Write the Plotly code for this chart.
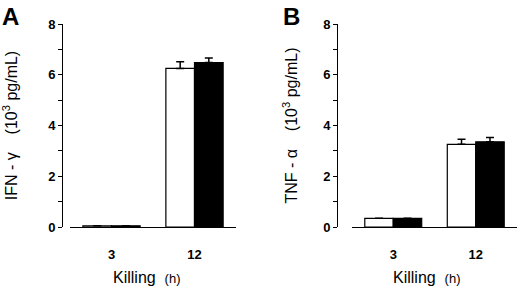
import plotly.graph_objects as go

categories = ["3", "12"]
ifn_white = [0.05, 6.25]
ifn_white_err = [0.0, 0.26]
ifn_black = [0.05, 6.48]
ifn_black_err = [0.0, 0.18]
tnf_white = [0.34, 3.26]
tnf_white_err = [0.0, 0.20]
tnf_black = [0.34, 3.36]
tnf_black_err = [0.0, 0.17]
y_ticks = [0, 2, 4, 6, 8]

W, H = 520, 291
def px(x): return x / W
def py(y): return 1 - y / H

fig = go.Figure()

def add_pair(white, werr, black, berr, xa, ya):
    for vals, err, fill in [(white, werr, "white"), (black, berr, "black")]:
        fig.add_trace(go.Bar(
            x=categories, y=vals, xaxis=xa, yaxis=ya,
            marker=dict(color=fill, line=dict(color="black", width=1.2)),
            error_y=dict(type="data", symmetric=False, array=err,
                         arrayminus=[0] * len(err), color="black",
                         thickness=1.5, width=4),
            showlegend=False, hoverinfo="skip",
        ))

add_pair(ifn_white, ifn_white_err, ifn_black, ifn_black_err, "x", "y")
add_pair(tnf_white, tnf_white_err, tnf_black, tnf_black_err, "x2", "y2")

font = "Liberation Sans, Arial, sans-serif"
y_top, y_bot = 24, 227

def xaxis_cfg(x0, x1, anchor):
    return dict(domain=[px(x0), px(x1)], anchor=anchor, type="category",
                range=[-0.5, 1.5], showline=True, linecolor="black", linewidth=1.3,
                ticks="outside", ticklen=15, tickcolor="rgba(0,0,0,0)",
                tickfont=dict(family=font, size=13, color="black", weight="bold"),
                showgrid=False, zeroline=False, fixedrange=True, automargin=False)

def yaxis_cfg(pos, title, standoff):
    return dict(domain=[py(y_bot), py(y_top)], anchor="free", position=px(pos),
                range=[0, 8], tickvals=y_ticks, showline=True, linecolor="black",
                linewidth=1.2, ticks="outside", ticklen=4, tickwidth=1, tickcolor="black",
                minor=dict(dtick=1, ticks="outside", ticklen=4, tickcolor="black", tickwidth=1),
                tickfont=dict(family=font, size=13, color="black", weight="bold"),
                title=dict(text=title, font=dict(family=font, size=16, color="black"),
                           standoff=standoff),
                showgrid=False, zeroline=False, fixedrange=True, automargin=False)

xtitle = "Killing  <span style='font-size:13px'>(h)</span>"

fig.update_layout(
    template="none",
    width=W, height=H, margin=dict(l=0, r=0, t=0, b=0, autoexpand=False),
    paper_bgcolor="white", plot_bgcolor="white",
    barmode="group", bargap=0.31, bargroupgap=0,
    xaxis=xaxis_cfg(70, 236, "y"),
    yaxis=yaxis_cfg(62, "IFN - γ    (10<sup>3</sup> pg/mL)", 25),
    xaxis2=xaxis_cfg(352, 517, "y2"),
    yaxis2=yaxis_cfg(337, "TNF - α    (10<sup>3</sup> pg/mL)", 20),
    annotations=[
        dict(text="<b>A</b>", x=px(0), y=py(1), xref="paper", yref="paper",
             xanchor="left", yanchor="top", showarrow=False,
             font=dict(family=font, size=24, color="black")),
        dict(text="<b>B</b>", x=px(281), y=py(1), xref="paper", yref="paper",
             xanchor="left", yanchor="top", showarrow=False,
             font=dict(family=font, size=24, color="black")),
        dict(text=xtitle, x=px(146), y=py(277), xref="paper", yref="paper",
             xanchor="center", yanchor="middle", showarrow=False,
             font=dict(family=font, size=16, color="black")),
        dict(text=xtitle, x=px(426), y=py(277), xref="paper", yref="paper",
             xanchor="center", yanchor="middle", showarrow=False,
             font=dict(family=font, size=16, color="black")),
    ],
)

fig.write_html("out.html", config={"displayModeBar": False, "staticPlot": True},
               post_script="document.body.style.margin='0';document.body.style.padding='0';")
